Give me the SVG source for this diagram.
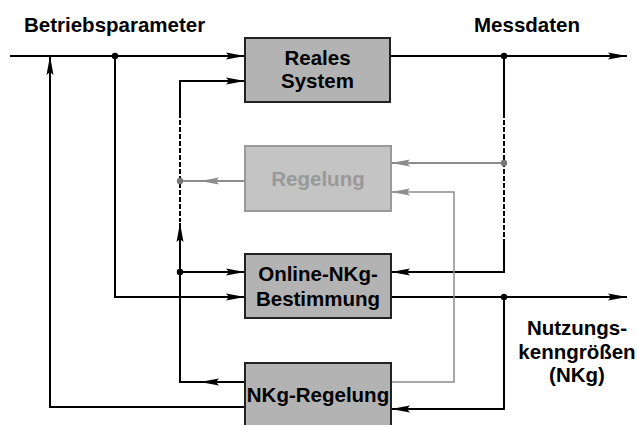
<svg xmlns="http://www.w3.org/2000/svg" width="637" height="425" viewBox="0 0 637 425">
<style>
.t{font-family:"Liberation Sans",Arial,sans-serif;font-weight:bold;font-size:20.5px;fill:#000}
.bx{fill:#b3b3b3;stroke:#222;stroke-width:2}
.bxg{fill:#c4c4c4;stroke:#999;stroke-width:2}
.l{fill:none;stroke:#000;stroke-width:2}
.g{fill:none;stroke:#8c8c8c;stroke-width:2}
.d{fill:none;stroke:#000;stroke-width:2;stroke-dasharray:5,2}
</style>
<defs>
<marker id="a" markerUnits="userSpaceOnUse" markerWidth="20" markerHeight="10" refX="19" refY="4" orient="auto">
<path d="M0,0.5 L19,4 L0,7.5 L3,4 z" fill="#000"/>
</marker>
<marker id="ag" markerUnits="userSpaceOnUse" markerWidth="20" markerHeight="10" refX="19" refY="4" orient="auto">
<path d="M0,0.5 L19,4 L0,7.5 L3,4 z" fill="#8c8c8c"/>
</marker>
</defs>
<rect width="637" height="425" fill="#fff"/>
<text class="t" x="24" y="32">Betriebsparameter</text>
<text class="t" x="527" y="32" text-anchor="middle">Messdaten</text>
<g id="connectors">
<path class="l" d="M10,56 H245" marker-end="url(#a)"/>
<path class="l" d="M390,56 H627" marker-end="url(#a)"/>
<path class="l" d="M245,407 H50 V56" marker-end="url(#a)"/>
<path class="l" d="M115,56 V297 H245" marker-end="url(#a)"/>
<path class="l" d="M180,113 V81 H245" marker-end="url(#a)"/>
<path class="d" d="M180,113 V222"/>
<path class="l" d="M504,56 V113"/>
<path class="d" d="M504,113 V243"/>
<path class="l" d="M504,243 V272 H391" marker-end="url(#a)"/>
<path class="l" d="M245,382 H180 V240"/>
<path class="l" d="M180,241 V223" marker-end="url(#a)"/>
<path class="l" d="M232,382 H200" marker-end="url(#a)"/>
<path class="l" d="M180,272 H245" marker-end="url(#a)"/>
<path class="l" d="M391,297 H627" marker-end="url(#a)"/>
<path class="l" d="M504,297 V409 H391" marker-end="url(#a)"/>
<path class="g" d="M245,181 H180"/>
<path class="g" d="M232,181 H200" marker-end="url(#ag)"/>
<path class="g" d="M504,163 H391" marker-end="url(#ag)"/>
<path class="g" d="M391,382 H454 V192 H391" marker-end="url(#ag)" style="stroke-width:1.5"/>
<circle cx="115" cy="56" r="3.2" fill="#000"/>
<circle cx="504" cy="56" r="3.2" fill="#000"/>
<circle cx="180" cy="272" r="3.2" fill="#000"/>
<circle cx="504" cy="297" r="3.2" fill="#000"/>
<circle cx="180" cy="181" r="3.2" fill="#777"/>
<circle cx="504" cy="163" r="3.2" fill="#777"/>
</g>
<g id="reales">
<rect class="bx" x="245" y="38" width="145" height="64"/>
<text class="t" x="317.5" y="65" text-anchor="middle">Reales</text>
<text class="t" x="317.5" y="88" text-anchor="middle">System</text>
</g>
<g id="regelung">
<rect class="bxg" x="245" y="146" width="146" height="65"/>
<text class="t" x="318" y="186" text-anchor="middle" style="fill:#999">Regelung</text>
</g>
<g id="online">
<rect class="bx" x="245" y="254" width="146" height="64"/>
<text class="t" x="318" y="281" text-anchor="middle">Online-NKg-</text>
<text class="t" x="318" y="306" text-anchor="middle">Bestimmung</text>
</g>
<g id="nkgregelung">
<rect class="bx" x="245" y="363" width="146" height="70"/>
<text class="t" x="318" y="402" text-anchor="middle">NKg-Regelung</text>
</g>
<g id="nkg-label">
<text class="t" x="577" y="335" text-anchor="middle">Nutzungs-</text>
<text class="t" x="577" y="359" text-anchor="middle">kenngrößen</text>
<text class="t" x="577" y="382" text-anchor="middle">(NKg)</text>
</g>
</svg>
